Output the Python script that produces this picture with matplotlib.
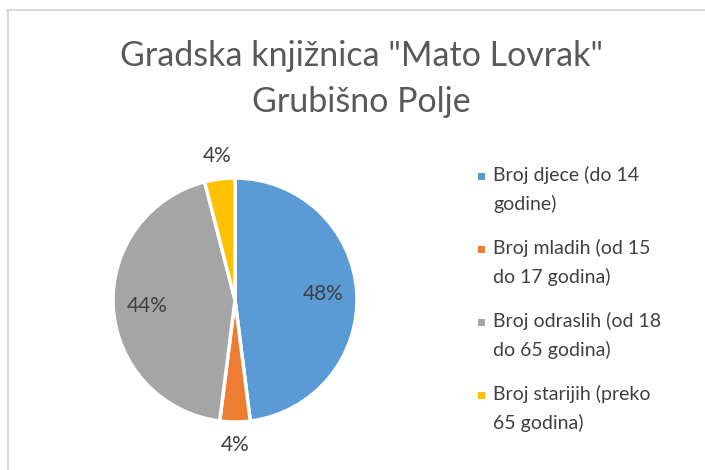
# Pie chart: library users by age group
import numpy as np
import matplotlib.pyplot as plt
from matplotlib.lines import Line2D
from matplotlib.patches import Rectangle

# Data
title = 'Gradska knjižnica "Mato Lovrak"\nGrubišno Polje'
labels = ["Broj djece (do 14\ngodine)",
          "Broj mladih (od 15\ndo 17 godina)",
          "Broj odraslih (od 18\ndo 65 godina)",
          "Broj starijih (preko\n65 godina)"]
shares = [48, 4, 44, 4]
colors = ["#5b9bd5", "#ed7d31", "#a5a5a5", "#ffc000"]

plt.rcParams.update({
    "font.family": ["Lato", "DejaVu Sans"],
})

W, H = 705, 470
fig = plt.figure(figsize=(W / 100, H / 100), dpi=100)
fig.patch.set_facecolor("white")

# chart frame (only top and left edges visible)
fig.add_artist(Line2D([7 / W, 1], [1 - 10 / H, 1 - 10 / H], color="#d9d9d9", lw=1.5))
fig.add_artist(Line2D([8 / W, 8 / W], [0, 1 - 10 / H], color="#d9d9d9", lw=1.5))

fig.text(361 / W, 1 - 79 / H, title, ha="center", va="center",
         fontsize=24.5, color="#595959", linespacing=1.5)

# pie axes: center (235, 300), radius ~122 px
r = 122
ax = fig.add_axes([(235 - r) / W, 1 - (300 + r) / H, 2 * r / W, 2 * r / H])
wedges, texts = ax.pie(shares, colors=colors, startangle=90, counterclock=False,
                       wedgeprops=dict(edgecolor="white", linewidth=2.5))
ax.set_aspect("equal")
ax.set_xlim(-1, 1)
ax.set_ylim(-1, 1)
ax.axis("off")

# data labels: inside for large slices, outside for small ones
start = 90.0
total = sum(shares)
for val in shares:
    sweep = 360.0 * val / total
    mid = np.deg2rad(start - sweep / 2)
    dist = 0.72 if val > 10 else 1.19
    ax.text(dist * np.cos(mid), dist * np.sin(mid), f"{val}%",
            ha="center", va="center", fontsize=15, color="#404040", clip_on=False)
    start -= sweep

# legend drawn manually (marker aligned with first text line)
x_mark, x_text = 481, 493
y0, dy = 176, 73
for i, (lab, col) in enumerate(zip(labels, colors)):
    y = y0 + i * dy
    fig.add_artist(Rectangle(((x_mark - 3.5) / W, 1 - (y + 3.5) / H), 7 / W, 7 / H,
                             facecolor=col, edgecolor="none"))
    fig.text(x_text / W, 1 - (y - 10) / H, lab, ha="left", va="top",
             fontsize=14, color="#404040", linespacing=1.74)

fig.savefig("out.png", dpi=100)
